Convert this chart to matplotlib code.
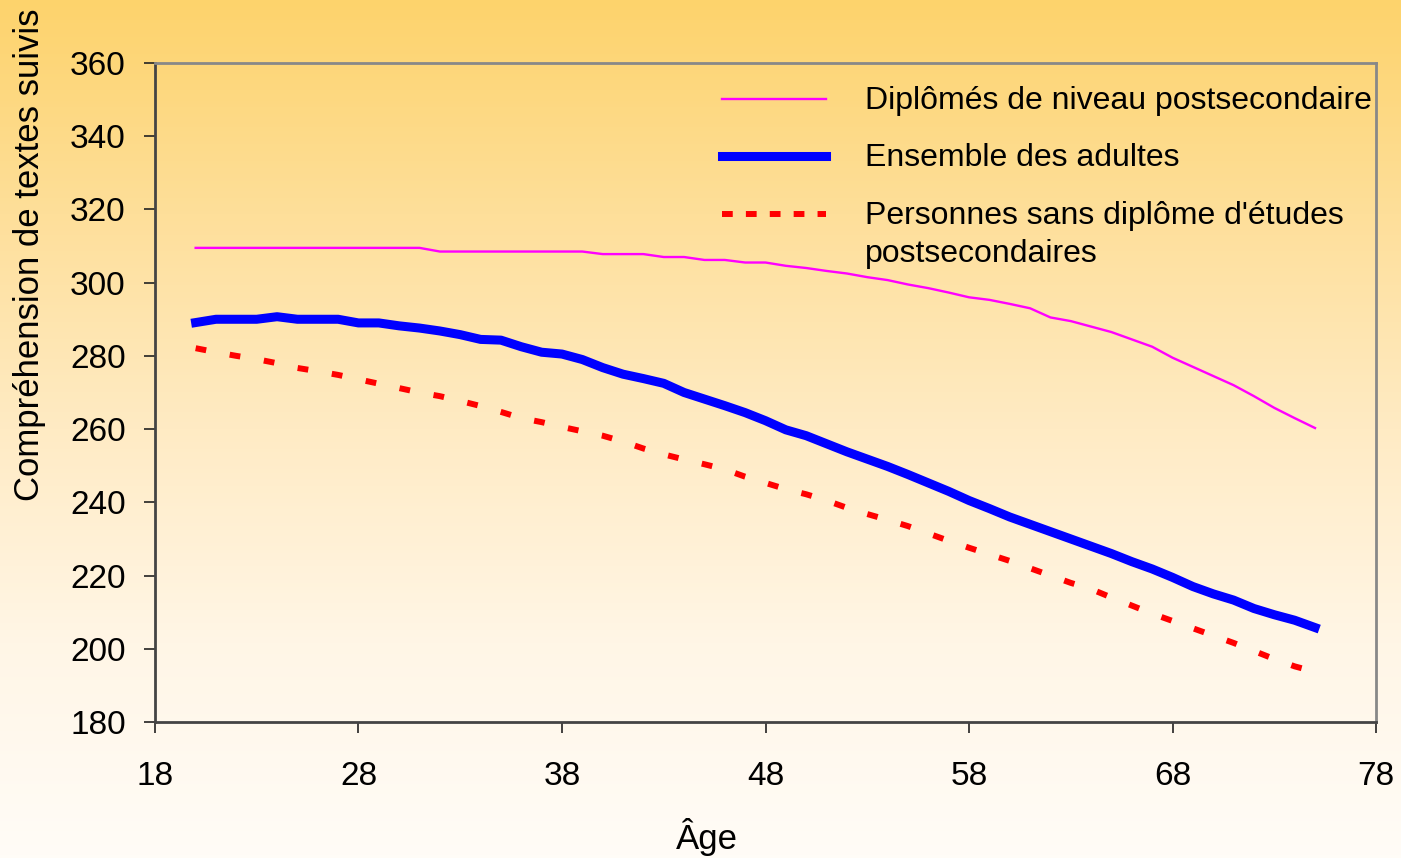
import numpy as np
import matplotlib
matplotlib.use("Agg")
import matplotlib.pyplot as plt
from matplotlib.colors import LinearSegmentedColormap
from matplotlib.lines import Line2D

plt.rcParams['font.family'] = ['Liberation Sans', 'DejaVu Sans']

# Âges et scores moyens de compréhension de textes suivis
ages = list(range(20, 76))
postsec = [309.5, 309.5, 309.5, 309.5, 309.5, 309.5, 309.5, 309.5, 309.5, 309.5,
           309.5, 309.5, 308.5, 308.5, 308.5, 308.5, 308.5, 308.5, 308.5, 308.5,
           307.8, 307.8, 307.8, 307.0, 307.0, 306.2, 306.2, 305.5, 305.5, 304.6,
           304.0, 303.2, 302.5, 301.5, 300.7, 299.5, 298.5, 297.3, 296.0, 295.3,
           294.2, 293.0, 290.5, 289.5, 288.0, 286.5, 284.5, 282.5, 279.5, 277.0,
           274.5, 272.0, 269.0, 265.8, 263.0, 260.3]
ensemble = [289.1, 290.0, 290.0, 290.0, 290.7, 290.0, 290.0, 290.0, 289.0, 289.0,
            288.2, 287.6, 286.8, 285.8, 284.5, 284.3, 282.5, 281.0, 280.5, 279.0,
            276.8, 275.0, 273.8, 272.5, 270.0, 268.2, 266.4, 264.5, 262.3, 259.8,
            258.2, 256.0, 253.8, 251.8, 249.8, 247.6, 245.3, 243.0, 240.5, 238.3,
            236.0, 234.0, 232.0, 230.0, 228.0, 226.0, 223.8, 221.8, 219.5, 217.0,
            215.0, 213.3, 211.0, 209.3, 207.8, 205.8]
sans_diplome = [282.1, 281.0, 280.0, 279.1, 278.0, 276.7, 275.8, 274.8, 273.6, 272.4,
                271.2, 270.0, 269.0, 267.7, 266.3, 264.7, 263.0, 261.9, 260.6, 259.4,
                258.2, 256.6, 254.7, 253.1, 251.7, 250.4, 249.0, 247.0, 245.3, 243.6,
                242.2, 240.5, 238.5, 236.8, 235.2, 233.5, 231.5, 229.5, 227.6, 225.8,
                224.0, 222.0, 220.0, 218.0, 216.3, 214.0, 211.8, 209.6, 207.6, 205.6,
                203.6, 201.6, 199.4, 197.2, 195.2, 193.7]

labels = ["Diplômés de niveau postsecondaire",
          "Ensemble des adultes",
          "Personnes sans diplôme d'études\npostsecondaires"]
xticks = [18, 28, 38, 48, 58, 68, 78]
yticks = list(range(180, 361, 20))

fig = plt.figure(figsize=(14.01, 8.58), dpi=100)

# fond dégradé orangé -> crème
bg = fig.add_axes([0, 0, 1, 1], zorder=-10)
cmap = LinearSegmentedColormap.from_list(
    "fond", ["#FDD36C", "#FEDF9A", "#FFEBC4", "#FFF6E6", "#FFFCF7"])
grad = np.linspace(0, 1, 256).reshape(-1, 1)
bg.imshow(grad, aspect="auto", cmap=cmap, extent=[0, 1, 0, 1])
bg.axis("off")

ax = fig.add_axes([0.1106, 0.1585, 0.8716, 0.7681])
ax.set_facecolor("none")

ax.plot(ages, postsec, color="#FF00FF", lw=1.7, solid_joinstyle="round")
ax.plot(ages, ensemble, color="#0000FF", lw=6.5, solid_joinstyle="round")
ax.plot(ages, sans_diplome, color="#FF0000", lw=4.3, dashes=(1.8, 4.0),
        dash_capstyle="butt")

ax.set_xlim(18, 78)
ax.set_ylim(180, 360)
ax.set_xticks(xticks)
ax.set_yticks(yticks)
ax.tick_params(labelsize=24, length=8, width=1.2, color="#222222")
ax.tick_params(axis="x", pad=20)
ax.tick_params(axis="y", pad=13)
ax.set_xlabel("Âge", fontsize=25)
ax.set_ylabel("Compréhension de textes suivis", fontsize=25)
ax.xaxis.set_label_coords(0.452, -0.1457)
ax.yaxis.set_label_coords(-0.089, 0.709)

for side in ["left", "bottom"]:
    ax.spines[side].set_color("#444444")
    ax.spines[side].set_linewidth(2)
for side in ["top", "right"]:
    ax.spines[side].set_color("#888888")
    ax.spines[side].set_linewidth(2)

# légende dessinée à la main
styles = [dict(color="#FF00FF", lw=1.7),
          dict(color="#0000FF", lw=6.5),
          dict(color="#FF0000", lw=4.3, dashes=(1.8, 2.2), dash_capstyle="butt")]
rows = [99, 156, 214]
for y, st, lab in zip(rows, styles, labels):
    fy = 1 - y / 858
    fig.add_artist(Line2D([722 / 1401, 826 / 1401], [fy, fy],
                          transform=fig.transFigure, **st))
    for k, part in enumerate(lab.split("\n")):
        fig.text(865 / 1401, fy - (k * 38 + 2) / 858, part, fontsize=23,
                 va="center", ha="left")

fig.savefig("out.png", dpi=100)
